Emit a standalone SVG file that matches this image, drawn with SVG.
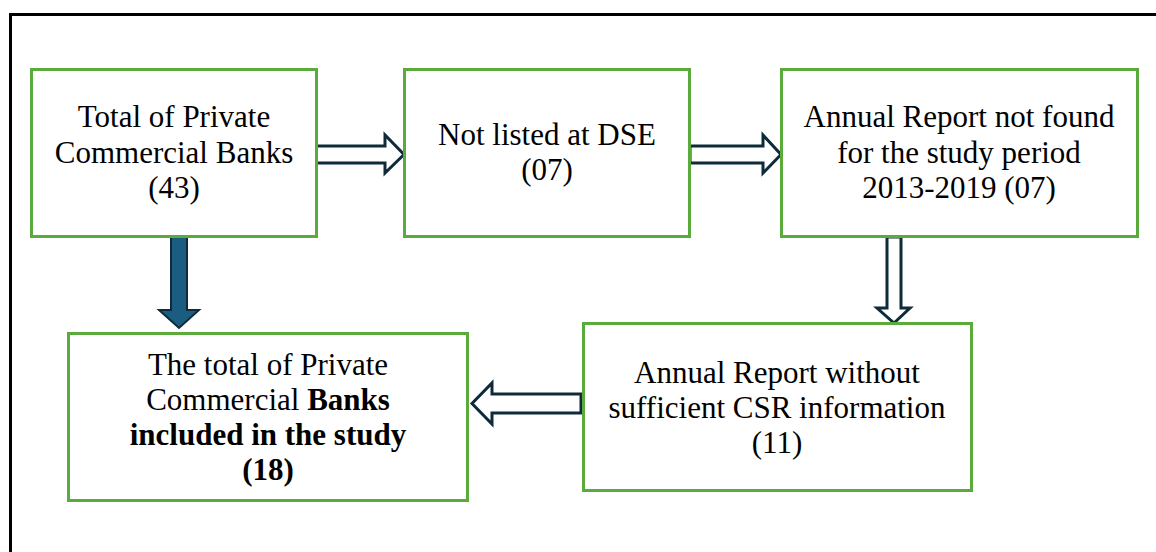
<svg xmlns="http://www.w3.org/2000/svg" width="1156" height="552" viewBox="0 0 1156 552">
<style>
.box{fill:#fff;stroke:#5aab3b;stroke-width:3}
.t{font-family:"Liberation Serif","Times New Roman",serif;font-size:31px;fill:#000;text-anchor:middle}
.b{font-weight:bold}
.hollow{fill:#fff;stroke:#0e2a3b;stroke-width:3;stroke-linejoin:miter}
.solid{fill:#1a5d80;stroke:#0e2a3b;stroke-width:2}
</style>
<rect x="0" y="0" width="1156" height="552" fill="#fff"/>
<path d="M10.5 560 V14.5 H1170" fill="none" stroke="#000" stroke-width="3"/>
<g id="connectors">
<path class="hollow" d="M316 146 H385 V135 L404 154.5 L385 173 V163 H316 Z"/>
<path class="hollow" d="M690 146 H763 V135 L781 154.5 L763 173 V163 H690 Z"/>
<path class="hollow" d="M887 237 H901 V308 H910 L894 323 L877 308 H887 Z"/>
<path class="solid" d="M171 237 H187 V310 H199 L179 328 L159 310 H171 Z"/>
<path class="hollow" d="M581 394 H492 V383 L472 403.5 L492 424 V413 H581 Z"/>
</g>
<g id="node1">
<rect class="box" x="31.5" y="69.5" width="285" height="167"/>
<text class="t" x="174" y="127">Total of Private</text>
<text class="t" x="174" y="163">Commercial Banks</text>
<text class="t" x="174" y="198">(43)</text>
</g>
<g id="node2">
<rect class="box" x="404.5" y="69.5" width="285" height="167"/>
<text class="t" x="547" y="145">Not listed at DSE</text>
<text class="t" x="547" y="180">(07)</text>
</g>
<g id="node3">
<rect class="box" x="781.5" y="69.5" width="356" height="167"/>
<text class="t" x="959" y="127">Annual Report not found</text>
<text class="t" x="959" y="163">for the study period</text>
<text class="t" x="959" y="198">2013-2019 (07)</text>
</g>
<g id="node4">
<rect class="box" x="583.5" y="323.5" width="388" height="167"/>
<text class="t" x="777" y="383">Annual Report without</text>
<text class="t" x="777" y="418">sufficient CSR information</text>
<text class="t" x="777" y="453">(11)</text>
</g>
<g id="node5">
<rect class="box" x="68.5" y="333.5" width="399" height="167"/>
<text class="t" x="268" y="375">The total of Private</text>
<text class="t" x="268" y="410">Commercial <tspan class="b">Banks</tspan></text>
<text class="t b" x="268" y="445">included in the study</text>
<text class="t b" x="268" y="480">(18)</text>
</g>
</svg>
